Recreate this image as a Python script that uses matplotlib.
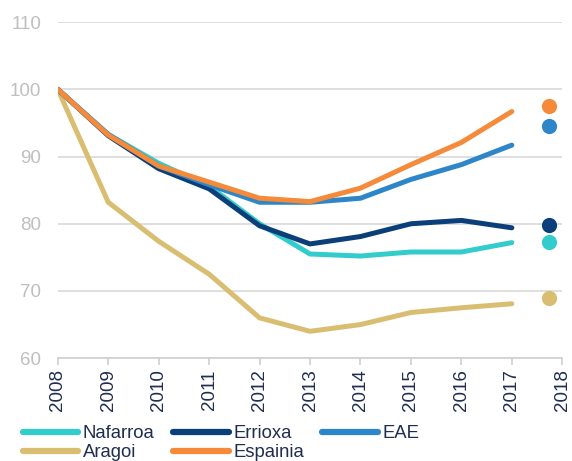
import matplotlib.pyplot as plt

plt.rcParams['font.family'] = ['Liberation Sans', 'DejaVu Sans']

# years and index values (2008 = 100)
years = [2008, 2009, 2010, 2011, 2012, 2013, 2014, 2015, 2016, 2017]
nafarroa = [100, 93.3, 89.0, 85.6, 80.0, 75.5, 75.2, 75.8, 75.8, 77.2]
errioxa = [100, 93.1, 88.2, 85.2, 79.7, 77.0, 78.1, 80.0, 80.5, 79.4]
eae = [100, 93.3, 88.6, 85.8, 83.2, 83.2, 83.8, 86.6, 88.8, 91.7]
aragoi = [100, 83.2, 77.4, 72.5, 66.0, 64.0, 65.0, 66.8, 67.5, 68.1]
espainia = [100, 93.2, 88.6, 86.2, 83.8, 83.3, 85.3, 88.8, 92.1, 96.7]

# end-point dots
dot_x = 2017.74
dot_nafarroa = 77.3
dot_errioxa = 79.8
dot_eae = 94.6
dot_aragoi = 68.9
dot_espainia = 97.5

c_naf = '#33CCCC'
c_err = '#0B3F7A'
c_eae = '#2E86C8'
c_ara = '#D9BE72'
c_esp = '#F58A3A'
navy = '#1F2D4F'

fig = plt.figure(figsize=(5.72, 4.61), dpi=100)
ax = fig.add_axes([0.101, 0.223, 0.882, 0.729])

lw = 3.6
l_ara, = ax.plot(years, aragoi, color=c_ara, lw=lw, label='Aragoi', solid_capstyle='round')
l_naf, = ax.plot(years, nafarroa, color=c_naf, lw=lw, label='Nafarroa', solid_capstyle='round')
l_err, = ax.plot(years, errioxa, color=c_err, lw=lw, label='Errioxa', solid_capstyle='round')
l_eae, = ax.plot(years, eae, color=c_eae, lw=lw, label='EAE', solid_capstyle='round')
l_esp, = ax.plot(years, espainia, color=c_esp, lw=lw, label='Espainia', solid_capstyle='round')

ax.scatter([dot_x], [dot_espainia], s=120, color=c_esp, zorder=5, lw=0)
ax.scatter([dot_x], [dot_eae], s=120, color=c_eae, zorder=5, lw=0)
ax.scatter([dot_x], [dot_errioxa], s=120, color=c_err, zorder=5, lw=0)
ax.scatter([dot_x], [dot_nafarroa], s=120, color=c_naf, zorder=5, lw=0)
ax.scatter([dot_x], [dot_aragoi], s=120, color=c_ara, zorder=5, lw=0)

ax.set_xlim(2008, 2018)
ax.set_ylim(60, 110)
ax.set_yticks([60, 70, 80, 90, 100, 110])
ax.set_xticks(range(2008, 2019))
ax.set_xticklabels([str(y) for y in range(2008, 2019)], rotation=90)

ax.grid(axis='y', color='#D9D9D9', lw=1.2)
ax.set_axisbelow(True)
for s in ['top', 'right', 'left']:
    ax.spines[s].set_visible(False)
ax.spines['bottom'].set_color('#D0D0D0')
ax.spines['bottom'].set_linewidth(1.2)
ax.tick_params(axis='y', length=0, pad=12, labelsize=13.5, labelcolor='#BFBFBF')
ax.tick_params(axis='x', length=5, color='#D0D0D0', width=1.2, labelsize=13.5,
               labelcolor=navy, pad=3)

leg = fig.legend([l_naf, l_ara, l_err, l_esp, l_eae],
                 ['Nafarroa', 'Aragoi', 'Errioxa', 'Espainia', 'EAE'],
                 ncol=3, loc='lower left', bbox_to_anchor=(0.04, 0.0),
                 frameon=False, fontsize=13.3, handlelength=3.0, handletextpad=0.25,
                 columnspacing=1.0, labelspacing=0.1, borderpad=0, borderaxespad=0)
for t in leg.get_texts():
    t.set_color(navy)
for h in leg.get_lines():
    h.set_linewidth(4.5)

fig.savefig('out.png', dpi=100)
